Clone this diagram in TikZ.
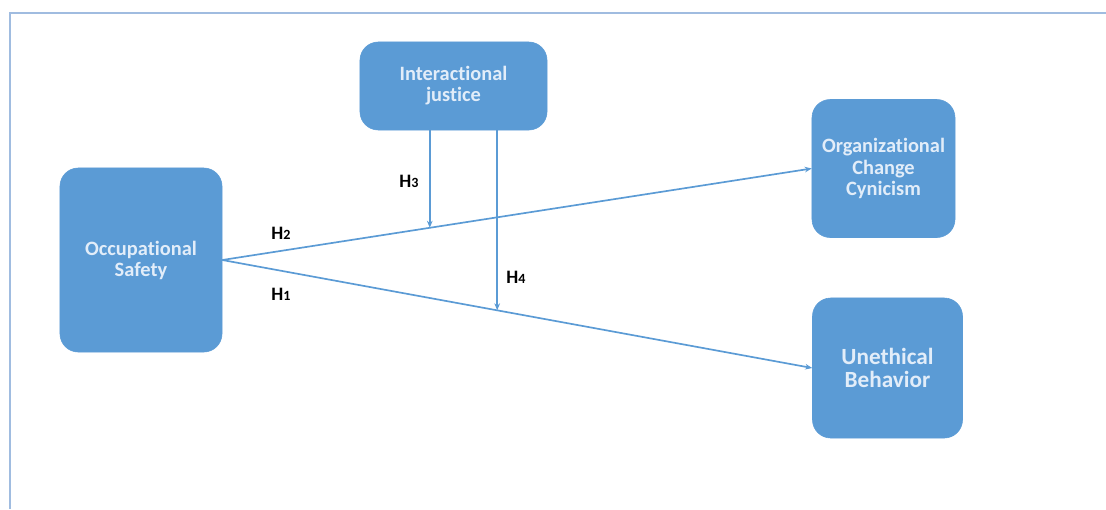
\documentclass[tikz,border=0pt]{standalone}
\usepackage{fontspec}
\setmainfont{Carlito}[Ligatures=NoCommon]
\usepackage{tikz}
\usetikzlibrary{arrows.meta,calc}

\definecolor{boxblue}{RGB}{91,155,213}
\definecolor{boxtext}{RGB}{226,237,249}
\definecolor{framecol}{RGB}{160,188,224}

\begin{document}
\begin{tikzpicture}[x=0.025cm, y=-0.025cm,
  every node/.style={font=\bfseries},
  var/.style={rectangle, rounded corners=13pt, fill=boxblue, draw=boxblue, text=boxtext, align=center, font=\bfseries\fontsize{14.5}{15}\selectfont},
  link/.style={draw=boxblue, line width=1.2pt, -{Stealth[length=5pt, width=4pt]}},
  hyp/.style={text=black, font=\bfseries\fontsize{13.5}{13.5}\selectfont}]
  \useasboundingbox (0,0) rectangle (1106,509);
  \draw [framecol, line width=1.4pt] (1106,13) -- (10,13) -- (10,509);
  \node [var, minimum width=4.05cm, minimum height=4.6cm] (os) at (141,260) {Occupational\\Safety};
  \node [var, minimum width=4.675cm, minimum height=2.2cm] (ij) at (453.5,86) {Interactional\\justice};
  \node [var, minimum width=3.575cm, minimum height=3.45cm] (occ) at (883.5,168.5) {Organizational\\Change\\Cynicism};
  \node [var, minimum width=3.75cm, minimum height=3.5cm, font=\bfseries\fontsize{16.5}{16.5}\selectfont] (ub) at (887.5,368) {Unethical\\Behavior};
  \coordinate (m3) at ($(os.east)!0.352!(occ.west)$);
  \coordinate (m4) at ($(os.east)!0.466!(ub.west)$);
  \draw [link] (os.east) -- (occ.west);
  \draw [link] (os.east) -- (ub.west);
  \draw [link] (ij.south -| m3) -- (m3);
  \draw [link] (ij.south -| m4) -- (m4);
  \node [hyp] (h1) at (281,294) {H{\fontsize{10}{10}\selectfont 1}};
  \node [hyp] (h2) at (281,233) {H{\fontsize{10}{10}\selectfont 2}};
  \node [hyp] (h3) at (409,181) {H{\fontsize{10}{10}\selectfont 3}};
  \node [hyp] (h4) at (516,277) {H{\fontsize{10}{10}\selectfont 4}};
\end{tikzpicture}
\end{document}
